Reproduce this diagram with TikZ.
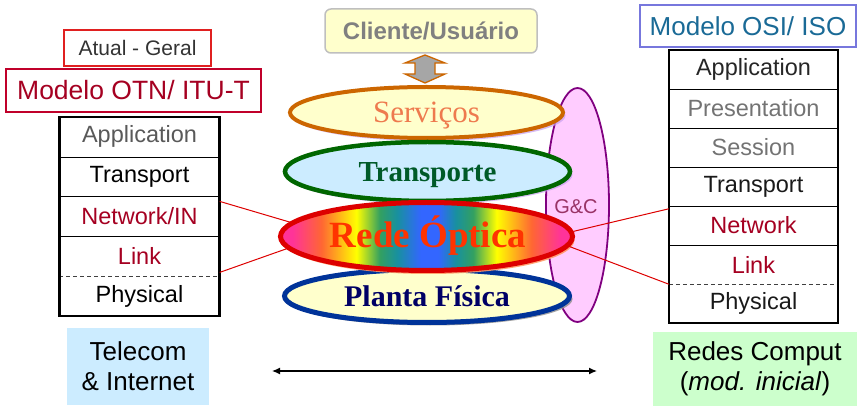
\documentclass[tikz,border=0pt]{standalone}
\usepackage{fontspec}
\setmainfont{Liberation Serif}
\setsansfont{Liberation Sans}
\usetikzlibrary{shapes.geometric,shadows,arrows.meta,calc}

\definecolor{netRed}{HTML}{A50021}
\definecolor{boxRed}{HTML}{E02020}
\definecolor{otnRed}{HTML}{C0002A}
\definecolor{osiBlue}{HTML}{7777DD}
\definecolor{osiText}{HTML}{1A6A96}
\definecolor{paleYellow}{HTML}{FFFFCC}
\definecolor{svcOrange}{HTML}{CC6600}
\definecolor{svcText}{HTML}{EE7A4E}
\definecolor{trpGreen}{HTML}{006600}
\definecolor{trpText}{HTML}{005A28}
\definecolor{paleBlue}{HTML}{CCECFF}
\definecolor{redeRed}{HTML}{DD0000}
\definecolor{redeText}{HTML}{FF3300}
\definecolor{plantaBlue}{HTML}{003399}
\definecolor{plantaText}{HTML}{000066}
\definecolor{gcFill}{HTML}{FFCCFF}
\definecolor{gcEdge}{HTML}{800080}
\definecolor{gcText}{HTML}{993366}
\definecolor{telBlue}{HTML}{CCECFF}
\definecolor{redesGreen}{HTML}{CCFFCC}
\definecolor{lavShadow}{HTML}{C8A0F0}
\definecolor{redeShadow}{HTML}{FF9966}
\definecolor{spPink}{HTML}{FF3399}
\definecolor{spOrange}{HTML}{FF6633}
\definecolor{spYellow}{HTML}{FFFF00}
\definecolor{spGreen}{HTML}{33A060}
\definecolor{spTeal}{HTML}{1890A0}
\definecolor{spBlue}{HTML}{3366FF}

% spectrum fill of the optical layer (path maps onto 25bp..75bp)
\pgfdeclarehorizontalshading{spectrum}{100bp}{%
  color(0bp)=(spPink); color(27bp)=(spPink); color(32bp)=(spOrange);
  color(38bp)=(spYellow); color(42bp)=(spGreen); color(45bp)=(spTeal);
  color(49bp)=(spBlue); color(52bp)=(spBlue); color(55bp)=(spTeal);
  color(58bp)=(spGreen); color(62bp)=(spYellow); color(68bp)=(spOrange);
  color(73bp)=(spPink); color(100bp)=(spPink)}

\begin{document}
\begin{tikzpicture}[x=1pt,y=-1pt,
  sans/.style={font=\sffamily\fontsize{#1}{#1}\selectfont},
  rowL/.style={minimum width=160, minimum height=39.8, inner sep=0,
    sans=23.5},
  rowR/.style={minimum width=169, minimum height=39, inner sep=0,
    sans=23.5},
  layer/.style={ellipse, inner sep=0},
  sep/.style={line width=0.8pt},
  frame/.style={line width=2.5pt},
  link/.style={draw=redeRed, line width=1pt},
]
\useasboundingbox (0,0) rectangle (857,406);

% ---- header labels
\node[draw=boxRed, line width=1.2pt, minimum width=147, minimum height=36,
  inner sep=0, sans=21, text=black!80] (atual) at (137.5,48) {Atual - Geral};
\node[draw=otnRed, line width=1.2pt, minimum width=255, minimum height=43,
  inner sep=0, sans=26.5, text=netRed] (otn) at (133.5,90.5) {Modelo OTN/ ITU-T};
\node[draw=osiBlue, line width=1.2pt, minimum width=216, minimum height=42,
  inner sep=0, sans=26, text=osiText] (osi) at (748,26) {Modelo OSI/ ISO};

% ---- left stack (OTN)
\node[rowL, text=black!65] (la) at (139.5,136.9) {Application};
\node[rowL, text=black]    (lt) at (139.5,176.7) {Transport};
\node[rowL, text=netRed]   (lnet) at (139.5,216.5) {Network/IN};
\node[rowL, text=netRed]   (llink) at (139.5,256.3) {Link};
\node[rowL, text=black]    (lp) at (139.5,296.1) {Physical};
\draw[sep] (la.south west) -- (la.south east);
\draw[sep] (lt.south west) -- (lt.south east);
\draw[sep] (lnet.south west) -- (lnet.south east);
\draw[sep, dashed, dash pattern=on 4pt off 3pt, black!75] (llink.south west) -- (llink.south east);
\draw[frame] (la.north west) rectangle (lp.south east);

% ---- right stack (OSI)
\node[rowR, text=black!85] (ra) at (753.5,69.5) {Application};
\node[rowR, text=black!55] (rpr) at (753.5,108.5) {Presentation};
\node[rowR, text=black!55] (rse) at (753.5,147.5) {Session};
\node[rowR, text=black!90] (rt) at (753.5,186.5) {Transport};
\node[rowR, text=netRed]   (rnet) at (753.5,225.5) {Network};
\node[rowR, text=netRed]   (rlink) at (753.5,264.5) {Link};
\node[rowR, text=black!90] (rp) at (753.5,303.5) {Physical};
\foreach \r in {ra,rpr,rse,rt,rnet}
  \draw[sep] (\r.south west) -- (\r.south east);
\draw[sep, dashed, dash pattern=on 4pt off 3pt, black!75] (rlink.south west) -- (rlink.south east);
\draw[frame] (ra.north west) rectangle (rp.south east);

% ---- client box and exchange arrow
\node[draw=black!25, line width=1.5pt, fill=paleYellow, rounded corners=6pt,
  minimum width=212, minimum height=44, inner sep=0,
  font=\sffamily\bfseries\fontsize{24}{24}\selectfont, text=black!50]
  (cli) at (431,31) {Cliente/Usuário};
\draw[draw=svcOrange, fill=black!35, line width=1.3pt, line join=miter]
  (425,55) -- (445,63) -- (435,63) -- (435,74) -- (445,74) -- (425,83)
  -- (405,74) -- (415,74) -- (415,63) -- (405,63) -- cycle;

% ---- management & control plane
\node[layer, draw=gcEdge, line width=1.8pt, fill=gcFill,
  minimum width=63, minimum height=234] (gc) at (577.5,205) {};
\node[sans=20, text=gcText] (gctext) at (576,207) {G\&C};

% ---- layers
\node[layer, draw=svcOrange, line width=4pt, fill=paleYellow,
  minimum width=273, minimum height=51,
  drop shadow={shadow xshift=2.5pt, shadow yshift=-3pt, fill=lavShadow, opacity=0.7}]
  (serv) at (426.5,112.5) {};
\node[font=\fontsize{31}{31}\selectfont, text=svcText, inner sep=0]
  (servtext) at (426.5,115.5) {Serviços};
\node[layer, draw=trpGreen, line width=4.5pt, fill=paleBlue,
  minimum width=285, minimum height=59,
  drop shadow={shadow xshift=2.5pt, shadow yshift=-3pt, fill=lavShadow, opacity=0.7}]
  (trp) at (427.5,171.5) {};
\node[font=\bfseries\fontsize{29}{29}\selectfont, text=trpText, inner sep=0]
  (trptext) at (427.5,175) {Transporte};
\node[layer, draw=plantaBlue, line width=5pt, fill=paleYellow,
  minimum width=285, minimum height=53,
  drop shadow={shadow xshift=3pt, shadow yshift=-3pt, fill=black!45, opacity=0.8}]
  (planta) at (427,296) {};
\node[font=\bfseries\fontsize{30}{30}\selectfont, text=plantaText, inner sep=0]
  (plantatext) at (427,296) {Planta Física};
\node[layer, draw=redeRed, line width=5pt, shading=spectrum,
  minimum width=292, minimum height=68,
  drop shadow={shadow xshift=2pt, shadow yshift=-3.5pt, fill=redeShadow, opacity=0.9}]
  (rede) at (426.5,236.5) {};
\node[font=\bfseries\fontsize{37}{37}\selectfont, text=redeText, inner sep=0]
  (redetext) at (428,235.5) {Rede Óptica};

% ---- mapping of the optical layer onto both stacks
\draw[link] ($(lnet.north east)+(0,5)$) -- (rede.174);
\draw[link] ($(llink.south east)+(0,-4)$) -- (rede.185.5);
\draw[link] ($(rnet.north west)+(0,3)$) -- (rede.2.5);
\draw[link] (rlink.south west) -- (rede.-4);

% ---- bottom captions
\node[fill=telBlue, minimum width=142, minimum height=77, inner sep=0,
  align=center, font=\sffamily\fontsize{26}{30}\selectfont]
  (tel) at (138,366.5) {Telecom\\\& Internet};
\node[fill=redesGreen, minimum width=204, minimum height=74, inner sep=0,
  align=center, font=\sffamily\fontsize{26}{30}\selectfont]
  (redes) at (755,369) {Redes Comput\\(\textit{mod. inicial})};
\coordinate (spanL) at (272,371);
\coordinate (spanR) at (597,371);
\draw[line width=1.3pt, {Latex[length=8pt,width=7pt]}-{Latex[length=8pt,width=7pt]}]
  (spanL) -- (spanR);
\end{tikzpicture}
\end{document}
